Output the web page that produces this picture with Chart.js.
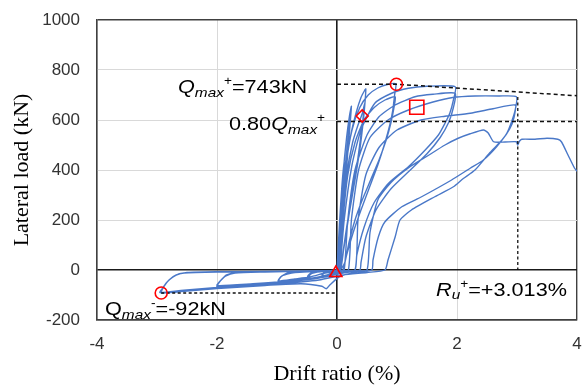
<!DOCTYPE html>
<html><head><meta charset="utf-8">
<script src="https://cdn.jsdelivr.net/npm/chart.js@4"></script>
<style>html,body{margin:0;padding:0;background:#fff}</style>
</head><body>
<canvas id="c" width="582" height="388"></canvas>
<script>
// ---- axis ticks ----
const xTicks = [-4, -2, 0, 2, 4];
const yTicks = [-200, 0, 200, 400, 600, 800, 1000];

// ---- hysteresis loops (drift %, load kN) ----
const cyc1X = [0, 0.04, 0.08, 0.12, 0.11, 0.07, 0.03, 0.01, -0.06, -0.12, -0.1, -0.04, 0.0];
const cyc1Y = [0, 180, 330, 430, 360, 200, 50, 0, -12, -18, -8, -4, 0];
const cyc2X = [0.0, 0.05, 0.1, 0.16, 0.21, 0.24, 0.22, 0.18, 0.12, 0.06, 0.03, -0.05, -0.15, -0.25, -0.22, -0.15, -0.05, 0.01];
const cyc2Y = [0, 200, 380, 530, 620, 655, 590, 470, 300, 120, 0, -12, -20, -27, -14, -7, -4, 0];
const cyc3X = [0.01, 0.06, 0.12, 0.18, 0.22, 0.2, 0.15, 0.09, 0.04, -0.05, -0.15, -0.25, -0.23, -0.15, -0.05, 0.02];
const cyc3Y = [0, 180, 370, 520, 600, 530, 380, 200, 10, -12, -20, -26, -12, -6, -3, 0];
const cyc4X = [0.02, 0.07, 0.14, 0.23, 0.32, 0.4, 0.46, 0.48, 0.47, 0.44, 0.38, 0.3, 0.2, 0.11, 0.06, 0.0, -0.15, -0.3, -0.45, -0.5, -0.47, -0.42, -0.33, -0.2, -0.05, 0.02];
const cyc4Y = [0, 200, 400, 540, 630, 690, 718, 724, 680, 600, 480, 360, 220, 80, 0, -12, -22, -30, -36, -38, -25, -14, -8, -5, -3, 0];
const cyc5X = [0.02, 0.08, 0.16, 0.26, 0.35, 0.42, 0.46, 0.45, 0.41, 0.35, 0.26, 0.16, 0.08, 0.04, -0.1, -0.25, -0.4, -0.5, -0.48, -0.43, -0.35, -0.2, -0.05, 0.03];
const cyc5Y = [0, 200, 380, 510, 580, 625, 665, 640, 560, 450, 320, 170, 40, 0, -15, -25, -32, -36, -22, -12, -7, -5, -3, 0];
const cyc6X = [0.03, 0.08, 0.15, 0.25, 0.38, 0.52, 0.68, 0.84, 0.98, 0.96, 0.93, 0.88, 0.8, 0.68, 0.54, 0.4, 0.27, 0.16, 0.1, 0.02, -0.2, -0.45, -0.7, -0.98, -0.95, -0.9, -0.83, -0.7, -0.45, -0.2, 0.04];
const cyc6Y = [0, 220, 420, 560, 650, 700, 728, 742, 745, 700, 640, 580, 510, 420, 330, 240, 150, 60, 0, -12, -26, -34, -40, -47, -32, -22, -16, -10, -7, -5, 0];
const cyc7X = [0.04, 0.1, 0.18, 0.3, 0.45, 0.62, 0.8, 0.97, 0.95, 0.9, 0.82, 0.7, 0.56, 0.42, 0.3, 0.2, 0.13, 0.05, -0.2, -0.45, -0.7, -0.98, -0.94, -0.88, -0.8, -0.6, -0.3, 0.05];
const cyc7Y = [0, 200, 380, 510, 600, 650, 680, 693, 650, 590, 520, 440, 360, 280, 200, 110, 30, 0, -12, -28, -36, -44, -28, -18, -11, -7, -5, 0];
const cyc8X = [0.05, 0.12, 0.25, 0.4, 0.63, 0.91, 1.19, 1.5, 1.97, 1.94, 1.88, 1.8, 1.69, 1.47, 1.19, 0.86, 0.62, 0.45, 0.33, 0.3, 0.1, -0.3, -0.8, -1.4, -2.0, -1.93, -1.84, -1.67, -1.2, -0.6, 0.05];
const cyc8Y = [0, 200, 420, 560, 667, 707, 727, 735, 733, 680, 627, 587, 540, 480, 413, 347, 270, 170, 60, 0, -10, -30, -45, -55, -62, -40, -20, -10, -7, -5, -2];
const cyc9X = [0.12, 0.18, 0.3, 0.5, 0.7, 0.97, 1.3, 1.6, 1.97, 1.94, 1.86, 1.72, 1.5, 1.2, 0.9, 0.65, 0.48, 0.4, 0.38, 0.1, -0.3, -0.8, -1.4, -2.0, -1.95, -1.86, -1.7, -1.2, -0.5, 0.05];
const cyc9Y = [0, 200, 400, 540, 613, 660, 693, 703, 707, 650, 590, 530, 465, 395, 325, 240, 130, 30, 0, -12, -32, -46, -56, -68, -45, -25, -12, -8, -5, -2];
const cyc10X = [0.19, 0.24, 0.36, 0.55, 0.85, 1.19, 1.6, 1.93, 2.3, 2.7, 2.99, 2.97, 2.91, 2.83, 2.66, 2.44, 2.22, 1.91, 1.41, 1.08, 0.8, 0.69, 0.6, 0.58, 0.3, 0.05, -0.12, -0.18, -0.25, -0.6, -1.2, -2.0, -2.5, -2.93, -2.88, -2.8, -2.68, -2.5, -2.0, -1.2, -0.5, 0.05];
const cyc10Y = [0, 200, 400, 530, 600, 640, 672, 690, 696, 696, 693, 640, 593, 547, 493, 440, 407, 360, 293, 253, 193, 133, 40, 0, -10, -25, -60, -75, -65, -55, -62, -74, -84, -92, -65, -40, -20, -10, -7, -6, -4, -2];
const cyc11X = [0.3, 0.35, 0.48, 0.7, 1.0, 1.4, 1.8, 2.22, 2.6, 2.97, 2.95, 2.88, 2.75, 2.55, 2.3, 2.1, 1.94, 1.63, 1.24, 1.05, 0.97, 0.85, 0.8, 0.5, 0.1, -0.3, -1.0, -2.0, -2.6, -2.95, -2.9, -2.82, -2.7, -2.55, -2.0, -1.0, 0.0, 0.3];
const cyc11Y = [0, 200, 380, 490, 560, 600, 615, 627, 645, 660, 610, 565, 520, 470, 400, 365, 333, 293, 240, 200, 133, 40, 0, -10, -20, -40, -55, -70, -82, -90, -70, -45, -22, -12, -8, -6, -4, -3];
const finalX = [0.5, 0.55, 0.68, 0.9, 1.2, 1.5, 1.8, 2.02, 2.22, 2.44, 2.52, 2.61, 2.8, 2.99, 3.01, 3.04, 3.08, 3.3, 3.5, 3.68, 3.74, 3.85, 3.96, 4.0];
const finalY = [0, 150, 280, 350, 410, 455, 500, 527, 545, 560, 548, 513, 512, 513, 500, 515, 523, 523, 527, 523, 513, 460, 407, 395];

// ---- characteristic points ----
const qmaxPosX = [0.99], qmaxPosY = [743];
const qmaxNegX = [-2.93], qmaxNegY = [-92];
const yieldX = [0.42], yieldY = [616];
const squareX = [1.33], squareY = [651];
const crackX = [-0.02], crackY = [-12];

// ---- reference (dashed) lines ----
const envX = [0, 0.99, 4], envY = [743, 743, 697];
const q80X = [0, 4], q80Y = [594, 594];
const ruX = [3.013, 3.013], ruY = [692, 0];
const qNegLineX = [-2.93, 0], qNegLineY = [-92, -92];

const zip = (xs, ys) => xs.map((x, i) => ({x, y: ys[i]}));
const loops = [[cyc1X,cyc1Y],[cyc2X,cyc2Y],[cyc3X,cyc3Y],[cyc4X,cyc4Y],[cyc5X,cyc5Y],[cyc6X,cyc6Y],
  [cyc7X,cyc7Y],[cyc8X,cyc8Y],[cyc9X,cyc9Y],[cyc10X,cyc10Y],[cyc11X,cyc11Y],[finalX,finalY]];
const hyst = [];
loops.forEach(([xs, ys]) => hyst.push(...zip(xs, ys)));

const RED = '#ff0000';
function marker(xs, ys, style, r) {
  return {data: zip(xs, ys), showLine: false, pointStyle: style, pointRadius: r, pointHoverRadius: r,
    pointBorderColor: RED, pointBackgroundColor: 'rgba(0,0,0,0)', pointBorderWidth: 1.6, order: 0};
}
function dashed(xs, ys, dash, w) {
  return {data: zip(xs, ys), showLine: true, borderColor: '#111', borderWidth: w, borderDash: dash,
    pointRadius: 0, fill: false, order: 1};
}

const FONT = '"Liberation Sans", Arial, sans-serif';
const notes = [
  {x: 178, y: 93, parts: [{t:'Q', i:1, s:19},{t:'max', i:1, s:13.5, dy:4},{t:'+', s:12, dy:-8},{t:'=743kN', s:19}]},
  {x: 229, y: 130, parts: [{t:'0.80', s:19},{t:'Q', i:1, s:19},{t:'max', i:1, s:13.5, dy:4},{t:'+', s:12, dy:-8}]},
  {x: 105, y: 315, parts: [{t:'Q', s:19},{t:'max', i:1, s:13.5, dy:4},{t:'-', s:12, dy:-8},{t:'=-92kN', s:19}]},
  {x: 436, y: 296, parts: [{t:'R', i:1, s:19},{t:'u', i:1, s:13.5, dy:3},{t:'+', s:12, dy:-8},{t:'=+3.013%', s:19}]}
];
const notesPlugin = {
  id: 'notes',
  afterDatasetsDraw(chart) {
    const ctx = chart.ctx;
    notes.forEach(n => {
      ctx.save();
      ctx.translate(n.x, n.y);
      ctx.scale(1.14, 1);
      ctx.fillStyle = '#000';
      ctx.textBaseline = 'alphabetic';
      ctx.textAlign = 'left';
      let cx = 0;
      n.parts.forEach(p => {
        ctx.font = (p.i ? 'italic ' : '') + p.s + 'px ' + FONT;
        ctx.fillText(p.t, cx, p.dy || 0);
        cx += ctx.measureText(p.t).width;
      });
      ctx.restore();
    });
  }
};

const gridColor = (ctx, lo, hi) => {
  const v = ctx.tick && ctx.tick.value;
  if (v === 0) return '#1a1a1a';
  if (v === lo || v === hi) return '#404040';
  return '#d9d9d9';
};
const gridWidth = (ctx, lo, hi) => {
  const v = ctx.tick && ctx.tick.value;
  if (v === 0) return 1.6;
  if (v === lo || v === hi) return 1.4;
  return 1;
};

const chart = new Chart(document.getElementById('c'), {
  type: 'scatter',
  data: {
    datasets: [
      marker(qmaxPosX, qmaxPosY, 'circle', 6),
      marker(qmaxNegX, qmaxNegY, 'circle', 6),
      marker(yieldX, yieldY, 'rectRot', 6),
      marker(squareX, squareY, 'rect', 10),
      marker(crackX, crackY, 'triangle', 7),
      dashed(envX, envY, [4, 3], 1.5),
      dashed(q80X, q80Y, [4, 3], 1.5),
      dashed(ruX, ruY, [3, 2.5], 1.3),
      dashed(qNegLineX, qNegLineY, [3, 2.5], 1.3),
      {data: hyst, showLine: true, borderColor: '#4a78c8', borderWidth: 1.4, tension: 0.2,
        pointRadius: 0, fill: false, order: 2}
    ]
  },
  options: {
    responsive: false,
    animation: false,
    events: [],
    layout: {autoPadding: false, padding: {top: 20, right: 5, left: 0, bottom: 0}},
    plugins: {legend: {display: false}, tooltip: {enabled: false}},
    scales: {
      x: {
        type: 'linear', min: -4, max: 4,
        afterBuildTicks: s => { s.ticks = xTicks.map(v => ({value: v})); },
        afterFit: s => { s.height = 68; },
        ticks: {padding: 0, color: '#333', font: {family: FONT, size: 17}, callback: v => String(v), maxRotation: 0},
        grid: {drawTicks: true, tickLength: 14, tickColor: 'rgba(0,0,0,0)',
          color: c => gridColor(c, -4, 4), lineWidth: c => gridWidth(c, -4, 4)},
        border: {display: true, color: '#404040', width: 1.4},
        title: {display: true, text: 'Drift ratio (%)', color: '#000', padding: {top: 0, bottom: 1},
          font: {family: '"Liberation Serif", "Times New Roman", serif', size: 22}}
      },
      y: {
        type: 'linear', min: -200, max: 1000,
        afterBuildTicks: s => { s.ticks = yTicks.map(v => ({value: v})); },
        afterFit: s => { s.width = 97; },
        ticks: {padding: 0, color: '#333', font: {family: FONT, size: 17}, callback: v => String(v)},
        grid: {drawTicks: true, tickLength: 17, tickColor: 'rgba(0,0,0,0)',
          color: c => gridColor(c, -200, 1000), lineWidth: c => gridWidth(c, -200, 1000)},
        border: {display: true, color: '#404040', width: 1.4},
        title: {display: true, text: 'Lateral load (kN)', color: '#000', padding: {top: 9, bottom: 0},
          font: {family: '"Liberation Serif", "Times New Roman", serif', size: 22}}
      }
    }
  },
  plugins: [notesPlugin]
});
</script>
</body></html>
